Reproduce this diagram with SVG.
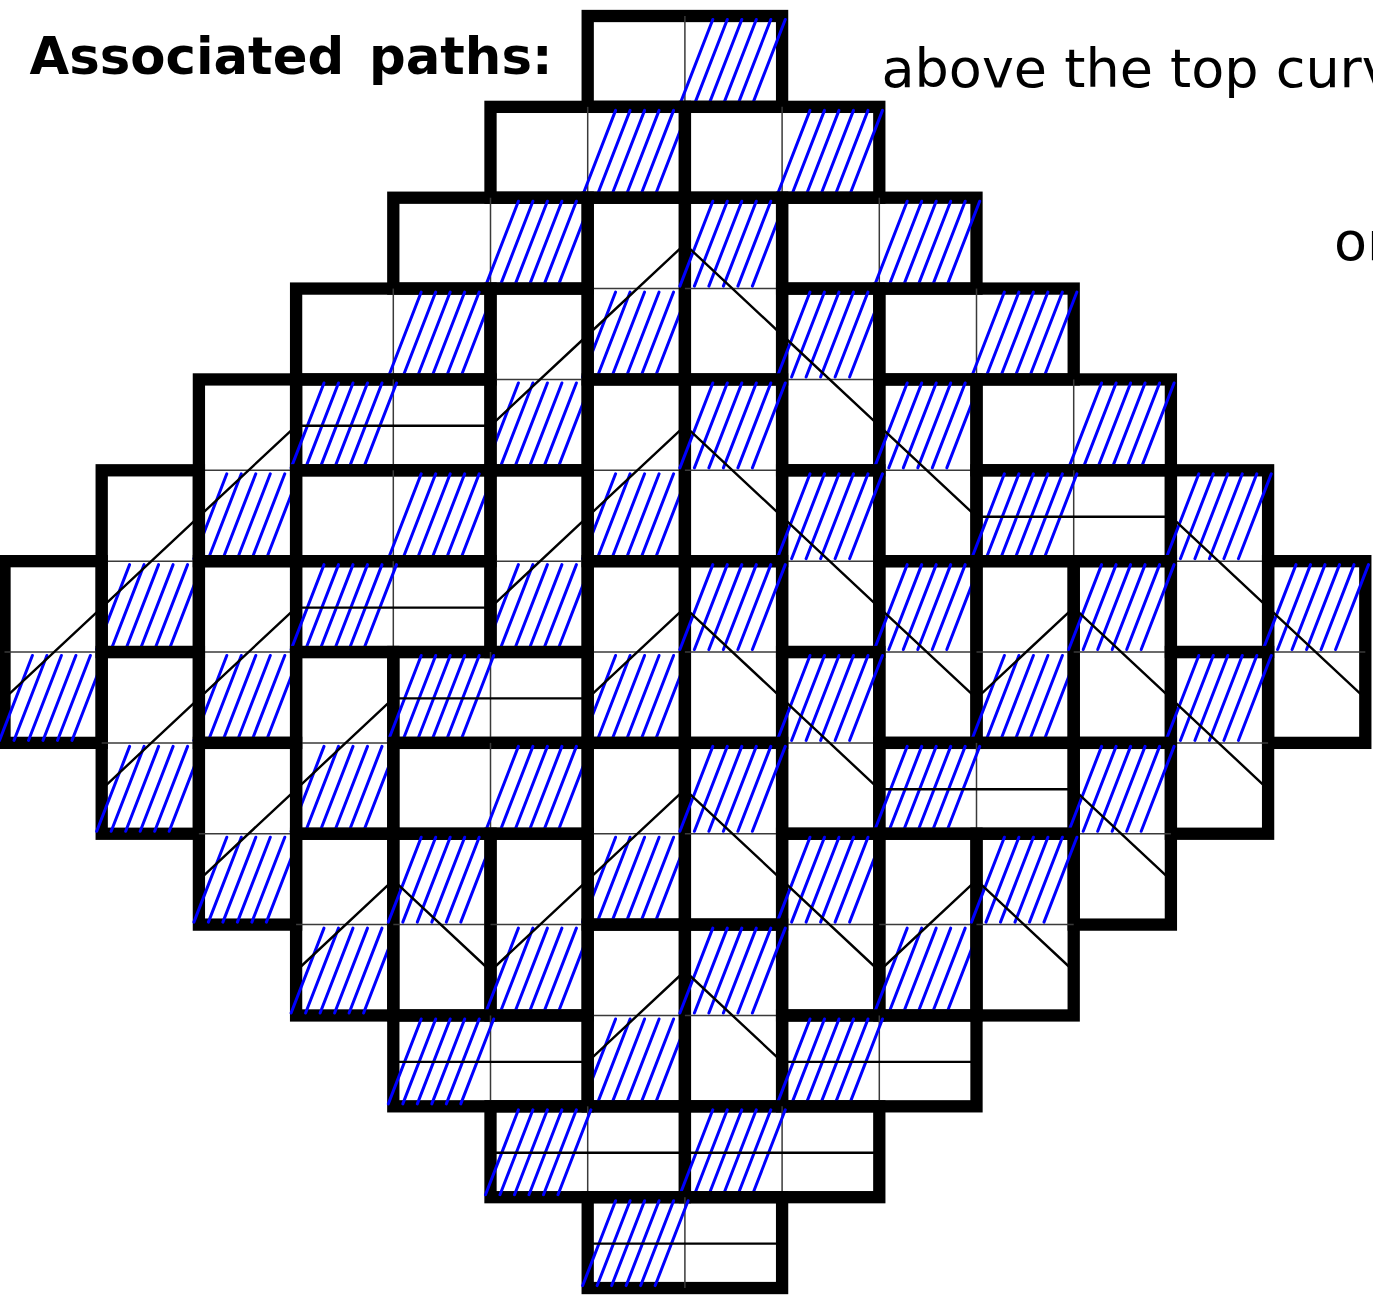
<svg xmlns="http://www.w3.org/2000/svg" width="1373" height="1306" viewBox="0 0 1373 1306">
<style>
.d{fill:none;stroke:#000;stroke-width:12.3;stroke-linejoin:miter}
.t{stroke:#3a3a3a;stroke-width:1.5}
.hz{fill:none;stroke:#00f;stroke-width:3;stroke-linecap:round}
.p{fill:none;stroke:#000;stroke-width:2.4;stroke-linejoin:round}
.lbl{font-family:'DejaVu Sans',sans-serif;fill:#000}
</style>
<defs>
<g id="hz"><path class="hz" d="M-5 88.4L27.9 3.5M9.5 88.4L42.4 3.5M24 88.4L56.9 3.5M38.5 88.4L71.4 3.5M53 88.4L85.9 3.5M67.5 88.4L100.4 3.5"/></g>
</defs>
<rect width="1373" height="1306" fill="#fff"/>
<g id="labels">
<text class="lbl" x="29.5" y="74" font-size="51.3" font-weight="bold" word-spacing="7">Associated paths:</text>
<text class="lbl" x="881.5" y="87.3" font-size="54">above the top curv</text>
<text class="lbl" x="1334" y="260" font-size="54">or</text>
</g>
<g id="dominoes">
<g id="H0-6"><rect class="d" x="587.7" y="16" width="194.4" height="90.86"/><line class="t" x1="684.9" y1="16" x2="684.9" y2="106.86"/><use href="#hz" x="684.9" y="16"/></g>
<g id="H1-5"><rect class="d" x="490.5" y="106.86" width="194.4" height="90.86"/><line class="t" x1="587.7" y1="106.86" x2="587.7" y2="197.72"/><use href="#hz" x="587.7" y="106.86"/></g>
<g id="H1-7"><rect class="d" x="684.9" y="106.86" width="194.4" height="90.86"/><line class="t" x1="782.1" y1="106.86" x2="782.1" y2="197.72"/><use href="#hz" x="782.1" y="106.86"/></g>
<g id="H2-4"><rect class="d" x="393.3" y="197.72" width="194.4" height="90.86"/><line class="t" x1="490.5" y1="197.72" x2="490.5" y2="288.58"/><use href="#hz" x="490.5" y="197.72"/></g>
<g id="V2-6"><rect class="d" x="587.7" y="197.72" width="97.2" height="181.72"/><line class="t" x1="587.7" y1="288.58" x2="684.9" y2="288.58"/><use href="#hz" x="587.7" y="288.58"/></g>
<g id="V2-7"><rect class="d" x="684.9" y="197.72" width="97.2" height="181.72"/><line class="t" x1="684.9" y1="288.58" x2="782.1" y2="288.58"/><use href="#hz" x="684.9" y="197.72"/></g>
<g id="H2-8"><rect class="d" x="782.1" y="197.72" width="194.4" height="90.86"/><line class="t" x1="879.3" y1="197.72" x2="879.3" y2="288.58"/><use href="#hz" x="879.3" y="197.72"/></g>
<g id="H3-3"><rect class="d" x="296.1" y="288.58" width="194.4" height="90.86"/><line class="t" x1="393.3" y1="288.58" x2="393.3" y2="379.44"/><use href="#hz" x="393.3" y="288.58"/></g>
<g id="V3-5"><rect class="d" x="490.5" y="288.58" width="97.2" height="181.72"/><line class="t" x1="490.5" y1="379.44" x2="587.7" y2="379.44"/><use href="#hz" x="490.5" y="379.44"/></g>
<g id="V3-8"><rect class="d" x="782.1" y="288.58" width="97.2" height="181.72"/><line class="t" x1="782.1" y1="379.44" x2="879.3" y2="379.44"/><use href="#hz" x="782.1" y="288.58"/></g>
<g id="H3-9"><rect class="d" x="879.3" y="288.58" width="194.4" height="90.86"/><line class="t" x1="976.5" y1="288.58" x2="976.5" y2="379.44"/><use href="#hz" x="976.5" y="288.58"/></g>
<g id="V4-2"><rect class="d" x="198.9" y="379.44" width="97.2" height="181.72"/><line class="t" x1="198.9" y1="470.3" x2="296.1" y2="470.3"/><use href="#hz" x="198.9" y="470.3"/></g>
<g id="H4-3"><rect class="d" x="296.1" y="379.44" width="194.4" height="90.86"/><line class="t" x1="393.3" y1="379.44" x2="393.3" y2="470.3"/><use href="#hz" x="296.1" y="379.44"/></g>
<g id="V4-6"><rect class="d" x="587.7" y="379.44" width="97.2" height="181.72"/><line class="t" x1="587.7" y1="470.3" x2="684.9" y2="470.3"/><use href="#hz" x="587.7" y="470.3"/></g>
<g id="V4-7"><rect class="d" x="684.9" y="379.44" width="97.2" height="181.72"/><line class="t" x1="684.9" y1="470.3" x2="782.1" y2="470.3"/><use href="#hz" x="684.9" y="379.44"/></g>
<g id="V4-9"><rect class="d" x="879.3" y="379.44" width="97.2" height="181.72"/><line class="t" x1="879.3" y1="470.3" x2="976.5" y2="470.3"/><use href="#hz" x="879.3" y="379.44"/></g>
<g id="H4-10"><rect class="d" x="976.5" y="379.44" width="194.4" height="90.86"/><line class="t" x1="1073.7" y1="379.44" x2="1073.7" y2="470.3"/><use href="#hz" x="1073.7" y="379.44"/></g>
<g id="V5-1"><rect class="d" x="101.7" y="470.3" width="97.2" height="181.72"/><line class="t" x1="101.7" y1="561.16" x2="198.9" y2="561.16"/><use href="#hz" x="101.7" y="561.16"/></g>
<g id="H5-3"><rect class="d" x="296.1" y="470.3" width="194.4" height="90.86"/><line class="t" x1="393.3" y1="470.3" x2="393.3" y2="561.16"/><use href="#hz" x="393.3" y="470.3"/></g>
<g id="V5-5"><rect class="d" x="490.5" y="470.3" width="97.2" height="181.72"/><line class="t" x1="490.5" y1="561.16" x2="587.7" y2="561.16"/><use href="#hz" x="490.5" y="561.16"/></g>
<g id="V5-8"><rect class="d" x="782.1" y="470.3" width="97.2" height="181.72"/><line class="t" x1="782.1" y1="561.16" x2="879.3" y2="561.16"/><use href="#hz" x="782.1" y="470.3"/></g>
<g id="H5-10"><rect class="d" x="976.5" y="470.3" width="194.4" height="90.86"/><line class="t" x1="1073.7" y1="470.3" x2="1073.7" y2="561.16"/><use href="#hz" x="976.5" y="470.3"/></g>
<g id="V5-12"><rect class="d" x="1170.9" y="470.3" width="97.2" height="181.72"/><line class="t" x1="1170.9" y1="561.16" x2="1268.1" y2="561.16"/><use href="#hz" x="1170.9" y="470.3"/></g>
<g id="V6-0"><rect class="d" x="4.5" y="561.16" width="97.2" height="181.72"/><line class="t" x1="4.5" y1="652.02" x2="101.7" y2="652.02"/><use href="#hz" x="4.5" y="652.02"/></g>
<g id="V6-2"><rect class="d" x="198.9" y="561.16" width="97.2" height="181.72"/><line class="t" x1="198.9" y1="652.02" x2="296.1" y2="652.02"/><use href="#hz" x="198.9" y="652.02"/></g>
<g id="H6-3"><rect class="d" x="296.1" y="561.16" width="194.4" height="90.86"/><line class="t" x1="393.3" y1="561.16" x2="393.3" y2="652.02"/><use href="#hz" x="296.1" y="561.16"/></g>
<g id="V6-6"><rect class="d" x="587.7" y="561.16" width="97.2" height="181.72"/><line class="t" x1="587.7" y1="652.02" x2="684.9" y2="652.02"/><use href="#hz" x="587.7" y="652.02"/></g>
<g id="V6-7"><rect class="d" x="684.9" y="561.16" width="97.2" height="181.72"/><line class="t" x1="684.9" y1="652.02" x2="782.1" y2="652.02"/><use href="#hz" x="684.9" y="561.16"/></g>
<g id="V6-9"><rect class="d" x="879.3" y="561.16" width="97.2" height="181.72"/><line class="t" x1="879.3" y1="652.02" x2="976.5" y2="652.02"/><use href="#hz" x="879.3" y="561.16"/></g>
<g id="V6-10"><rect class="d" x="976.5" y="561.16" width="97.2" height="181.72"/><line class="t" x1="976.5" y1="652.02" x2="1073.7" y2="652.02"/><use href="#hz" x="976.5" y="652.02"/></g>
<g id="V6-11"><rect class="d" x="1073.7" y="561.16" width="97.2" height="181.72"/><line class="t" x1="1073.7" y1="652.02" x2="1170.9" y2="652.02"/><use href="#hz" x="1073.7" y="561.16"/></g>
<g id="V6-13"><rect class="d" x="1268.1" y="561.16" width="97.2" height="181.72"/><line class="t" x1="1268.1" y1="652.02" x2="1365.3" y2="652.02"/><use href="#hz" x="1268.1" y="561.16"/></g>
<g id="V7-1"><rect class="d" x="101.7" y="652.02" width="97.2" height="181.72"/><line class="t" x1="101.7" y1="742.88" x2="198.9" y2="742.88"/><use href="#hz" x="101.7" y="742.88"/></g>
<g id="V7-3"><rect class="d" x="296.1" y="652.02" width="97.2" height="181.72"/><line class="t" x1="296.1" y1="742.88" x2="393.3" y2="742.88"/><use href="#hz" x="296.1" y="742.88"/></g>
<g id="H7-4"><rect class="d" x="393.3" y="652.02" width="194.4" height="90.86"/><line class="t" x1="490.5" y1="652.02" x2="490.5" y2="742.88"/><use href="#hz" x="393.3" y="652.02"/></g>
<g id="V7-8"><rect class="d" x="782.1" y="652.02" width="97.2" height="181.72"/><line class="t" x1="782.1" y1="742.88" x2="879.3" y2="742.88"/><use href="#hz" x="782.1" y="652.02"/></g>
<g id="V7-12"><rect class="d" x="1170.9" y="652.02" width="97.2" height="181.72"/><line class="t" x1="1170.9" y1="742.88" x2="1268.1" y2="742.88"/><use href="#hz" x="1170.9" y="652.02"/></g>
<g id="V8-2"><rect class="d" x="198.9" y="742.88" width="97.2" height="181.72"/><line class="t" x1="198.9" y1="833.74" x2="296.1" y2="833.74"/><use href="#hz" x="198.9" y="833.74"/></g>
<g id="H8-4"><rect class="d" x="393.3" y="742.88" width="194.4" height="90.86"/><line class="t" x1="490.5" y1="742.88" x2="490.5" y2="833.74"/><use href="#hz" x="490.5" y="742.88"/></g>
<g id="V8-6"><rect class="d" x="587.7" y="742.88" width="97.2" height="181.72"/><line class="t" x1="587.7" y1="833.74" x2="684.9" y2="833.74"/><use href="#hz" x="587.7" y="833.74"/></g>
<g id="V8-7"><rect class="d" x="684.9" y="742.88" width="97.2" height="181.72"/><line class="t" x1="684.9" y1="833.74" x2="782.1" y2="833.74"/><use href="#hz" x="684.9" y="742.88"/></g>
<g id="H8-9"><rect class="d" x="879.3" y="742.88" width="194.4" height="90.86"/><line class="t" x1="976.5" y1="742.88" x2="976.5" y2="833.74"/><use href="#hz" x="879.3" y="742.88"/></g>
<g id="V8-11"><rect class="d" x="1073.7" y="742.88" width="97.2" height="181.72"/><line class="t" x1="1073.7" y1="833.74" x2="1170.9" y2="833.74"/><use href="#hz" x="1073.7" y="742.88"/></g>
<g id="V9-3"><rect class="d" x="296.1" y="833.74" width="97.2" height="181.72"/><line class="t" x1="296.1" y1="924.6" x2="393.3" y2="924.6"/><use href="#hz" x="296.1" y="924.6"/></g>
<g id="V9-4"><rect class="d" x="393.3" y="833.74" width="97.2" height="181.72"/><line class="t" x1="393.3" y1="924.6" x2="490.5" y2="924.6"/><use href="#hz" x="393.3" y="833.74"/></g>
<g id="V9-5"><rect class="d" x="490.5" y="833.74" width="97.2" height="181.72"/><line class="t" x1="490.5" y1="924.6" x2="587.7" y2="924.6"/><use href="#hz" x="490.5" y="924.6"/></g>
<g id="V9-8"><rect class="d" x="782.1" y="833.74" width="97.2" height="181.72"/><line class="t" x1="782.1" y1="924.6" x2="879.3" y2="924.6"/><use href="#hz" x="782.1" y="833.74"/></g>
<g id="V9-9"><rect class="d" x="879.3" y="833.74" width="97.2" height="181.72"/><line class="t" x1="879.3" y1="924.6" x2="976.5" y2="924.6"/><use href="#hz" x="879.3" y="924.6"/></g>
<g id="V9-10"><rect class="d" x="976.5" y="833.74" width="97.2" height="181.72"/><line class="t" x1="976.5" y1="924.6" x2="1073.7" y2="924.6"/><use href="#hz" x="976.5" y="833.74"/></g>
<g id="V10-6"><rect class="d" x="587.7" y="924.6" width="97.2" height="181.72"/><line class="t" x1="587.7" y1="1015.46" x2="684.9" y2="1015.46"/><use href="#hz" x="587.7" y="1015.46"/></g>
<g id="V10-7"><rect class="d" x="684.9" y="924.6" width="97.2" height="181.72"/><line class="t" x1="684.9" y1="1015.46" x2="782.1" y2="1015.46"/><use href="#hz" x="684.9" y="924.6"/></g>
<g id="H11-4"><rect class="d" x="393.3" y="1015.46" width="194.4" height="90.86"/><line class="t" x1="490.5" y1="1015.46" x2="490.5" y2="1106.32"/><use href="#hz" x="393.3" y="1015.46"/></g>
<g id="H11-8"><rect class="d" x="782.1" y="1015.46" width="194.4" height="90.86"/><line class="t" x1="879.3" y1="1015.46" x2="879.3" y2="1106.32"/><use href="#hz" x="782.1" y="1015.46"/></g>
<g id="H12-5"><rect class="d" x="490.5" y="1106.32" width="194.4" height="90.86"/><line class="t" x1="587.7" y1="1106.32" x2="587.7" y2="1197.18"/><use href="#hz" x="490.5" y="1106.32"/></g>
<g id="H12-7"><rect class="d" x="684.9" y="1106.32" width="194.4" height="90.86"/><line class="t" x1="782.1" y1="1106.32" x2="782.1" y2="1197.18"/><use href="#hz" x="684.9" y="1106.32"/></g>
<g id="H13-6"><rect class="d" x="587.7" y="1197.18" width="194.4" height="90.86"/><line class="t" x1="684.9" y1="1197.18" x2="684.9" y2="1288.04"/><use href="#hz" x="587.7" y="1197.18"/></g>
</g>
<g id="paths">
<path class="p" d="M4.5 698.4L101.7 607.6L198.9 516.7L296.1 425.8L490.5 425.8L587.7 335L684.9 244.1L782.1 335L879.3 425.8L976.5 516.7L1170.9 516.7L1268.1 607.6L1365.3 698.4"/>
<path class="p" d="M101.7 789.3L198.9 698.4L296.1 607.6L490.5 607.6L587.7 516.7L684.9 425.8L782.1 516.7L879.3 607.6L976.5 698.4L1073.7 607.6L1170.9 698.4L1268.1 789.3"/>
<path class="p" d="M198.9 880.1L296.1 789.3L393.3 698.4L587.7 698.4L684.9 607.6L782.1 698.4L879.3 789.3L1073.7 789.3L1170.9 880.1"/>
<path class="p" d="M296.1 971L393.3 880.1L490.5 971L587.7 880.1L684.9 789.3L782.1 880.1L879.3 971L976.5 880.1L1073.7 971"/>
<path class="p" d="M393.3 1061.9L587.7 1061.9L684.9 971L782.1 1061.9L976.5 1061.9"/>
<path class="p" d="M490.5 1152.7L879.3 1152.7"/>
<path class="p" d="M587.7 1243.6L782.1 1243.6"/>
</g>
</svg>
